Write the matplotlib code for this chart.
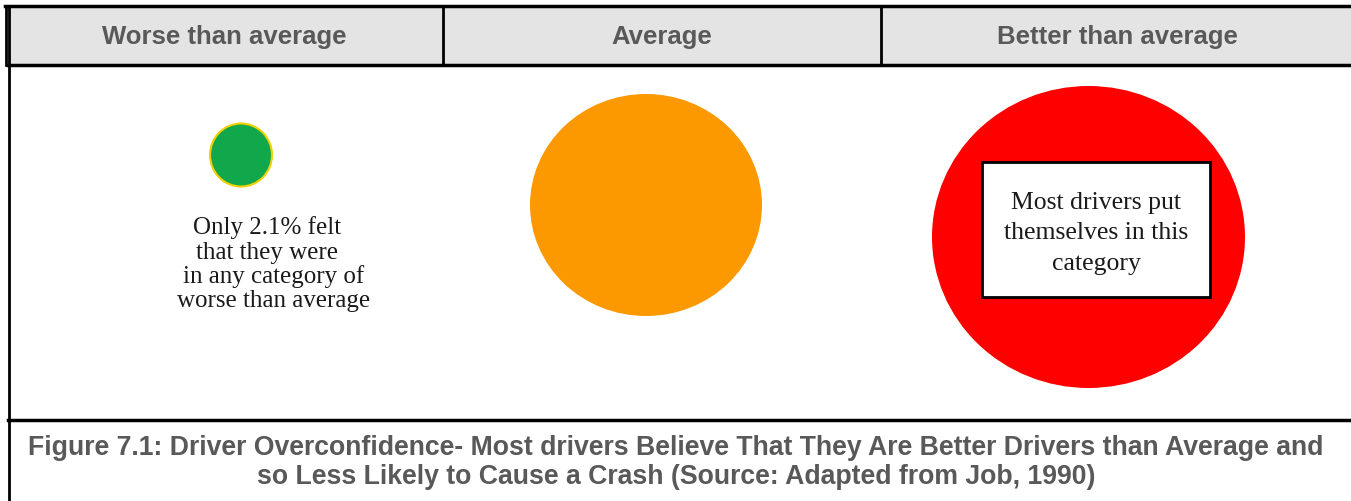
import matplotlib.pyplot as plt
from matplotlib.patches import Rectangle, Ellipse

# --- DATA ---
categories = ['Worse than average', 'Average', 'Better than average']
circle_colors = ['#10a84b', '#fd9900', '#ff0000']
worse_note = ['Only 2.1% felt', 'that they were', 'in any category of', 'worse than average']
better_note = ['Most drivers put', 'themselves in this', 'category']
caption = ['Figure 7.1: Driver Overconfidence- Most drivers Believe That They Are Better Drivers than Average and',
           'so Less Likely to Cause a Crash (Source: Adapted from Job, 1990)']

W, H = 1351, 502
fig = plt.figure(figsize=(W / 100, H / 100), dpi=100)
ax = fig.add_axes([0, 0, 1, 1])
ax.set_xlim(0, W)
ax.set_ylim(H, 0)
ax.axis('off')

head_col = '#595959'
sans = 'Liberation Sans'
serif = 'Liberation Serif'

# --- header row ---
ax.add_patch(Rectangle((8, 7), W - 8, 59, facecolor='#e4e4e4', edgecolor='none'))
ax.plot([5, W], [7, 7], color='black', lw=2.5)
ax.plot([8, W], [66, 66], color='black', lw=2.5)
ax.plot([5.5, 5.5], [7, 66], color='black', lw=2)
ax.plot([8.5, 8.5], [7, H], color='black', lw=2)
for xd in [443, 881]:
    ax.plot([xd, xd], [7, 66], color='black', lw=2)

header_x = [224, 662, 1117]
for xc, lab in zip(header_x, categories):
    ax.text(xc, 37, lab, ha='center', va='center', fontsize=18.5,
            fontweight='bold', color=head_col, family=sans)

# --- body ---
ax.add_patch(Ellipse((241, 156), 62, 63, facecolor=circle_colors[0],
                     edgecolor='#f2d000', lw=1.5))
ax.add_patch(Ellipse((646, 206), 232, 222, facecolor=circle_colors[1], edgecolor='none'))
ax.add_patch(Ellipse((1088.5, 238), 313, 302, facecolor=circle_colors[2], edgecolor='none'))

worse_x = [267, 267, 274, 274]
for i, line in enumerate(worse_note):
    ax.text(worse_x[i], 228 + i * 24.5, line, ha='center', va='center', fontsize=18,
            color='#1a1a1a', family=serif)

ax.add_patch(Rectangle((982, 163), 228, 135, facecolor='white', edgecolor='black', lw=2))
for i, line in enumerate(better_note):
    ax.text(1096, 203 + i * 30.5, line, ha='center', va='center', fontsize=18.5,
            color='#1a1a1a', family=serif)

# --- caption row ---
ax.plot([8, W], [421, 421], color='black', lw=2.5)
for i, line in enumerate(caption):
    ax.text(676, 448 + i * 29, line, ha='center', va='center', fontsize=19.2,
            fontweight='bold', color=head_col, family=sans)

fig.savefig('out.png', dpi=100)
